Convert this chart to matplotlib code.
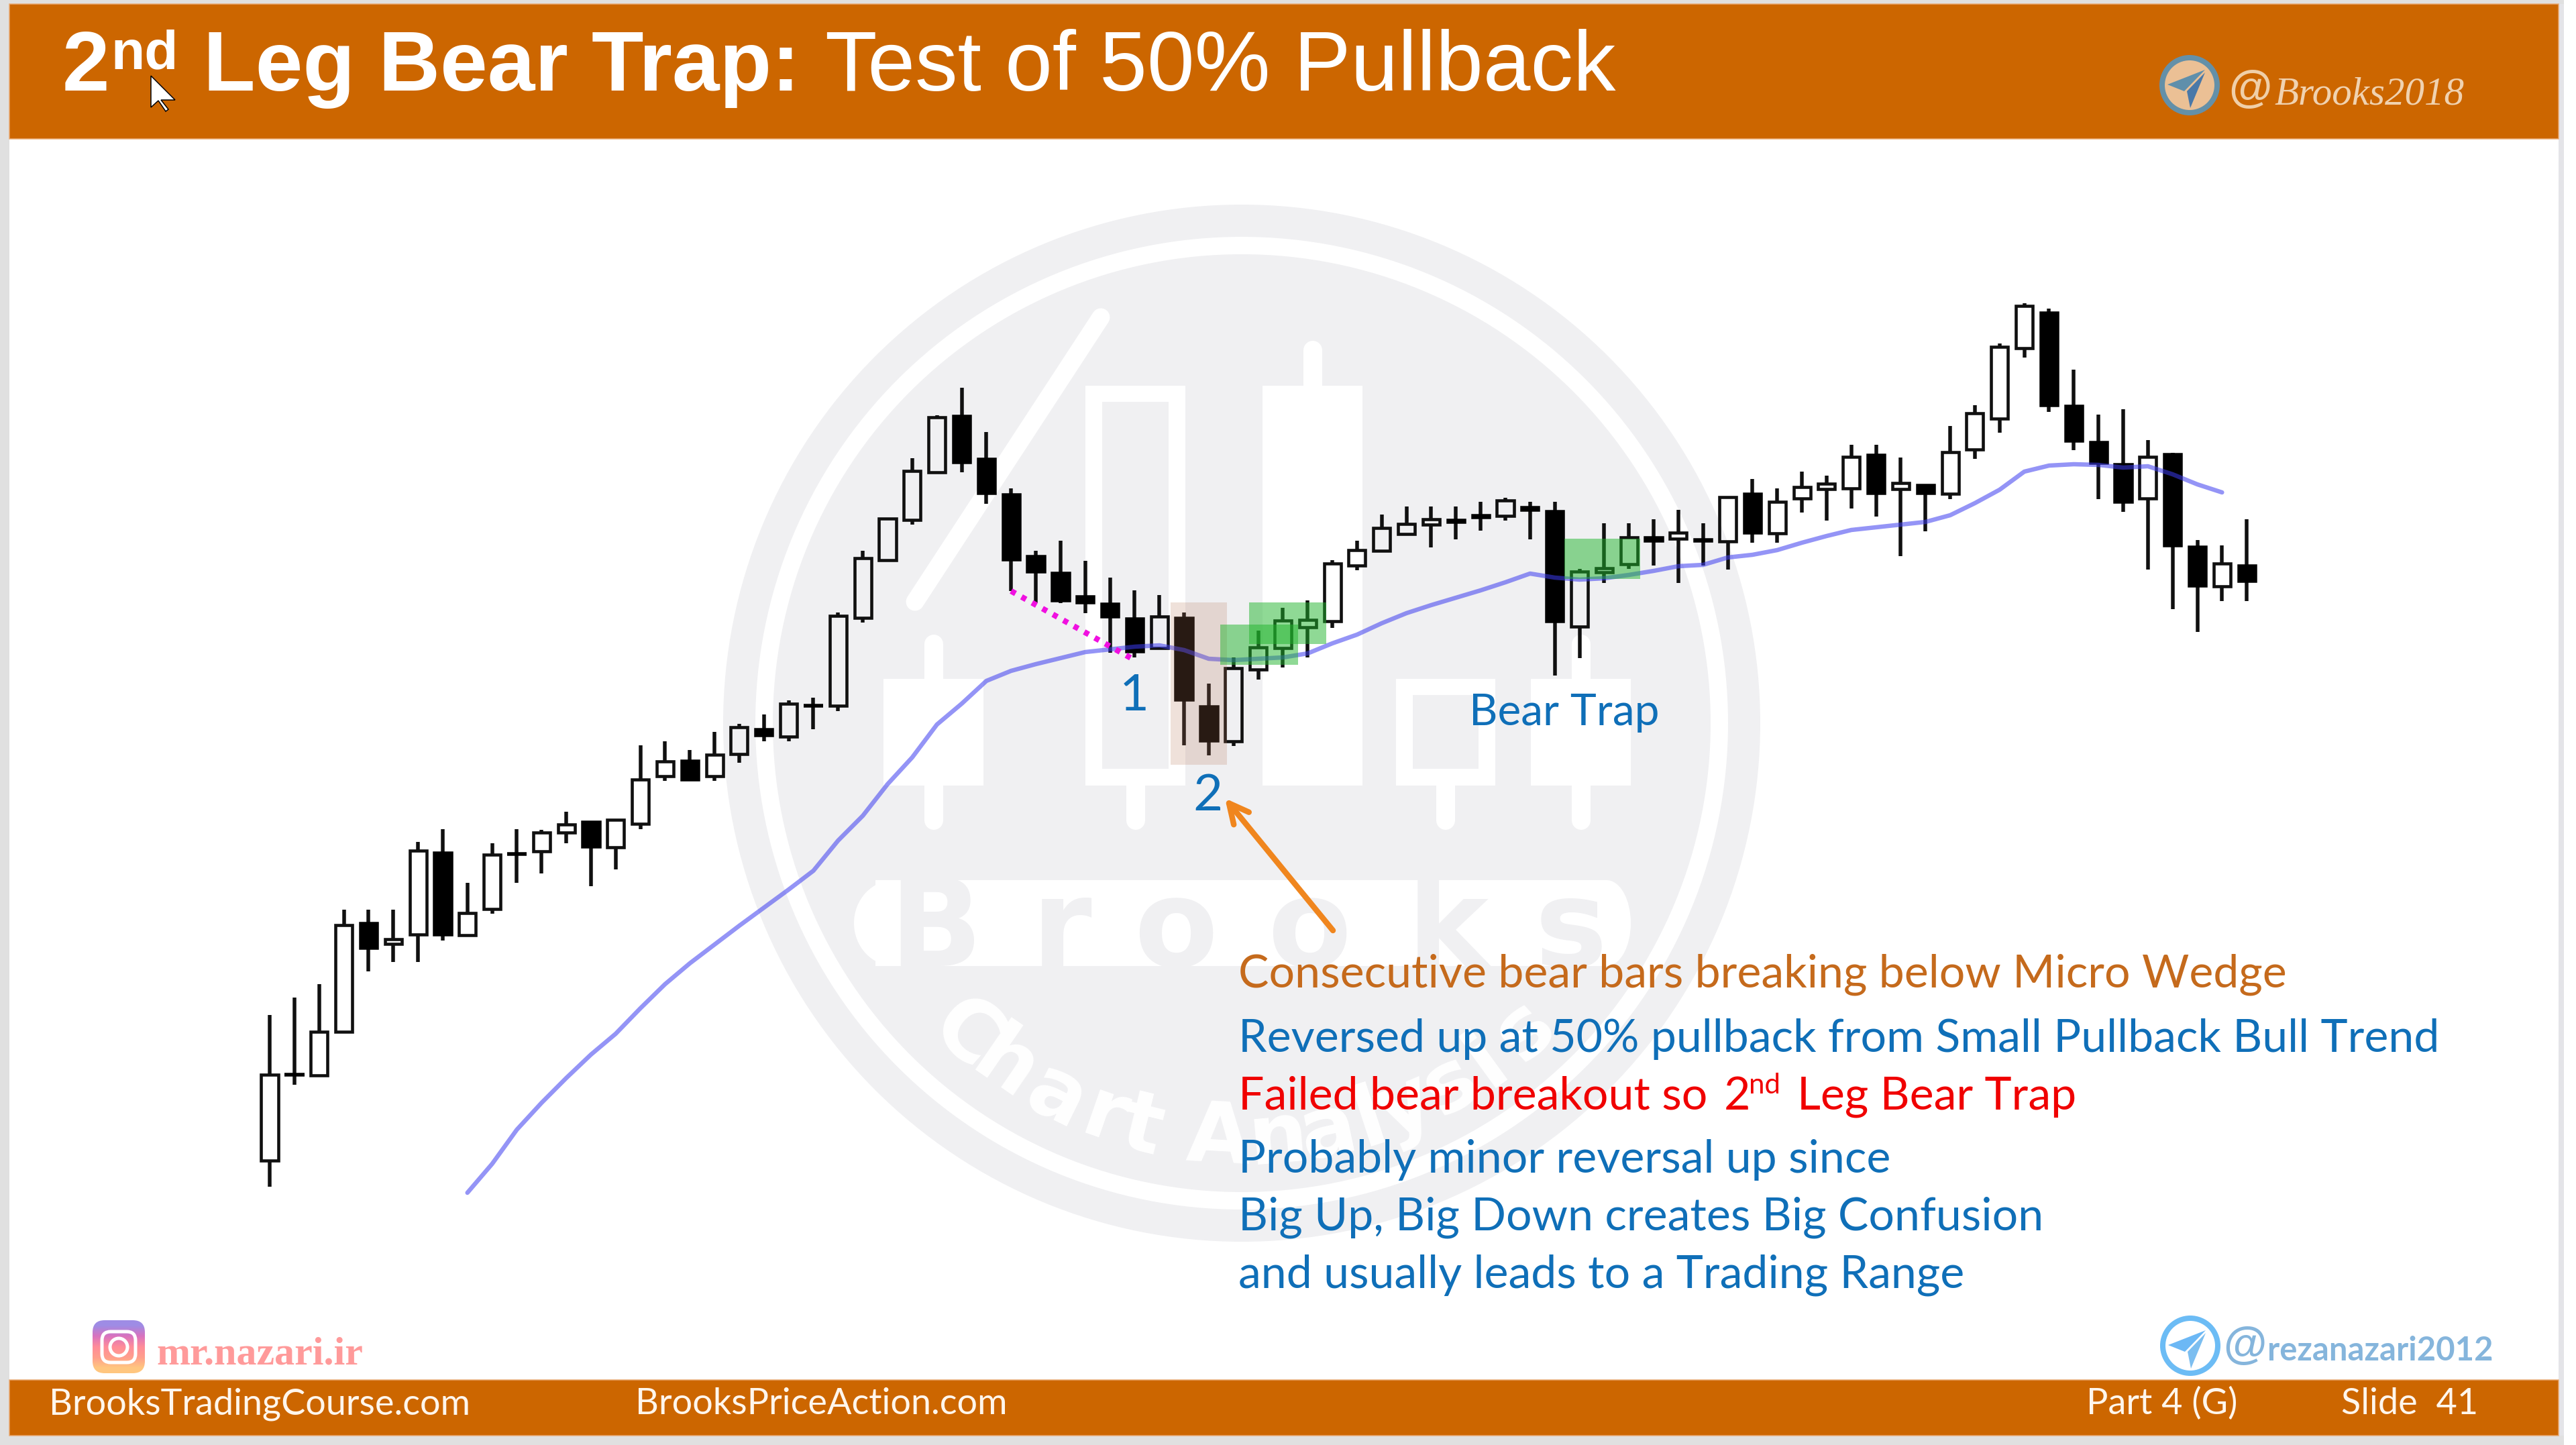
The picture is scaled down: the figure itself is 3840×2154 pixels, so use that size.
import matplotlib
matplotlib.use('Agg')
import matplotlib.pyplot as plt
import matplotlib.patches as patches
import numpy as np

# Bars, in picture rows (so the price axis runs top to bottom)
highs = [1513, 1487, 1467, 1356, 1356, 1356, 1255, 1236, 1316, 1257, 1236, 1237, 1210, 1224, 1222, 1111, 1105,
         1118, 1091, 1079, 1065, 1044, 1040, 913, 821, 773, 683, 619, 578, 644, 728, 821, 806, 836, 861, 880, 887,
         913, 1019, 980, 940, 906, 895, 835, 806, 767, 755, 755, 755, 748, 742, 748, 748, 848, 780, 780, 774, 760,
         780, 740, 714, 728, 703, 709, 663, 663, 682, 722, 635, 604, 512, 452, 460, 551, 618, 610, 656, 675, 805,
         813, 774]
lows = [1769, 1617, 1603, 1538, 1448, 1434, 1434, 1402, 1394, 1362, 1316, 1302, 1257, 1321, 1296, 1236, 1164,
        1163, 1164, 1137, 1105, 1105, 1087, 1060, 928, 835, 782, 704, 704, 751, 881, 899, 899, 914, 973, 980, 966,
        1111, 1126, 1112, 1013, 995, 980, 936, 850, 821, 796, 816, 804, 791, 776, 804, 1007, 981, 869, 848, 843,
        869, 843, 849, 809, 809, 764, 776, 758, 770, 829, 792, 744, 684, 645, 533, 614, 671, 744, 763, 849, 908,
        942, 896, 896]
opens = [1730, 1602, 1603, 1538, 1375, 1407, 1393, 1270, 1394, 1355, 1273, 1269, 1241, 1224, 1263, 1228, 1157,
         1133, 1157, 1124, 1086, 1098, 1052, 1052, 921, 835, 775, 704, 619, 683, 736, 828, 853, 888, 899, 921, 966,
         920, 1052, 1105, 998, 966, 935, 926, 843, 821, 796, 782, 774, 767, 769, 755, 761, 934, 853, 841, 800, 803,
         803, 807, 735, 795, 743, 729, 728, 677, 729, 722, 736, 670, 624, 519, 465, 604, 658, 691, 743, 676, 814,
         874, 842]
closes = [1602, 1602, 1538, 1379, 1414, 1400, 1268, 1394, 1361, 1274, 1273, 1241, 1229, 1263, 1222, 1162, 1135,
          1163, 1125, 1084, 1097, 1049, 1052, 918, 832, 773, 702, 622, 690, 736, 835, 853, 896, 899, 920, 972, 919,
          1044, 1105, 996, 965, 925, 924, 840, 820, 787, 781, 774, 779, 772, 746, 761, 927, 852, 847, 801, 807, 794,
          807, 741, 795, 748, 726, 721, 681, 736, 720, 736, 674, 616, 517, 456, 605, 658, 691, 749, 681, 814, 874,
          840, 867]

# Moving average, starts at bar 8 and stops one bar short of the end
ema_start = 8
ema = [1778, 1735, 1684, 1644, 1607, 1572, 1541, 1503, 1467, 1436, 1408, 1380, 1353, 1326, 1298, 1253, 1216, 1169,
       1129, 1080, 1049, 1015, 1000, 990, 981, 972, 968, 964, 962, 969, 982, 984, 982, 980, 974, 959, 946, 929, 914,
       902, 891, 880, 868, 855, 861, 864, 862, 857, 851, 844, 842, 831, 827, 820, 809, 799, 790, 786, 782, 778, 768,
       750, 730, 703, 694, 692, 693, 697, 695, 707, 722, 734]

# Micro wedge line, bar numbers and levels
wedge_x = [30, 35]
wedge_y = [881, 984]

# Text
footer_left = 'BrooksTradingCourse.com'
footer_mid = 'BrooksPriceAction.com'
footer_part = 'Part 4 (G)'
footer_slide = 'Slide  41'
line_orange = 'Consecutive bear bars breaking below Micro Wedge'
line_reversed = 'Reversed up at 50% pullback from Small Pullback Bull Trend'
lines_blue = ['Probably minor reversal up since', 'Big Up, Big Down creates Big Confusion',
              'and usually leads to a Trading Range']

ORANGE = '#CC6600'
BLUE = '#0F6FB8'
WM = '#F0F0F2'
SANS = 'Lato'


def pt(px):
    # font and line sizes are worked out in pixels of the 3840 wide picture
    return px * 72 / 100


fig = plt.figure(figsize=(38.4, 21.54), dpi=100, facecolor='white')


def layer(z):
    a = fig.add_axes([0, 0, 1, 1], zorder=z)
    a.set_xlim(0, 3840)
    a.set_ylim(2154, 0)
    a.axis('off')
    return a


bg = layer(0)
top = layer(2)

# Chart axes lined up so bar i falls on x = 402 + 36.84 * i
ax = fig.add_axes([0, 0, 1, 1], zorder=1)
ax.set_xlim(-402 / 36.84, (3840 - 402) / 36.84)
ax.set_ylim(2154, 0)
ax.axis('off')

# Watermark
bg.add_patch(patches.Circle((1851, 1078), 773, fc=WM, ec='none'))
bg.add_patch(patches.Circle((1851, 1078), 725, fc='white', ec='none'))
bg.add_patch(patches.Circle((1851, 1078), 699, fc=WM, ec='none'))


def wm_candle(x0, x1, y0, y1, wick_top, wick_bot, hollow=False):
    xm = (x0 + x1) / 2
    bg.plot([xm, xm], [wick_top, wick_bot], color='white', lw=pt(28), solid_capstyle='round')
    bg.add_patch(patches.Rectangle((x0, y0), x1 - x0, y1 - y0, fc='white', ec='none', zorder=3))
    if hollow:
        bg.add_patch(patches.Rectangle((x0 + 25, y0 + 24), x1 - x0 - 50, y1 - y0 - 49, fc=WM, ec='none', zorder=3))


wm_candle(1317, 1466, 1012, 1171, 960, 1223)
wm_candle(1618, 1767, 575, 1171, 1000, 1223, hollow=True)
wm_candle(1882, 2031, 575, 1171, 522, 1000)
wm_candle(2081, 2229, 1012, 1171, 1100, 1223, hollow=True)
wm_candle(2282, 2431, 1012, 1171, 960, 1223)
bg.plot([1641, 1364], [473, 897], color='white', lw=pt(27), solid_capstyle='round')

bg.add_patch(patches.Rectangle((1305, 1312), 1090, 128, fc='white', ec='none'))
bg.add_patch(patches.Ellipse((1333, 1376), 120, 128, fc='white', ec='none'))
bg.add_patch(patches.Ellipse((2395, 1376), 72, 128, fc='white', ec='none'))
for letter, lx in zip('Brooks', [1325, 1538, 1690, 1889, 2098, 2288]):
    bg.text(lx, 1440, letter, color=WM, fontsize=pt(182), family='DejaVu Sans', weight='bold', ha='left',
            va='baseline', zorder=4)

curved = 'ChartAnalysis'
curved_deg = [41.5, 34.5, 26.3, 19.2, 13.8, 3.2, -5, -12, -18, -23, -30, -36, -42.7]
for letter, deg in zip(curved, curved_deg):
    t = np.radians(deg)
    bg.text(1851 - 622 * np.sin(t), 1078 + 622 * np.cos(t), letter, color='white', fontsize=pt(124),
            family='DejaVu Sans', weight='bold', rotation=-deg, rotation_mode='anchor', ha='center', va='center',
            zorder=4)

# Candles
x = np.arange(len(highs))
highs = np.array(highs)
lows = np.array(lows)
opens = np.array(opens)
closes = np.array(closes)
body_top = np.minimum(opens, closes)
body_bot = np.maximum(opens, closes)
bear = closes > opens
bull = closes < opens
cross = closes == opens

ax.vlines(x, highs, body_top, color='#101010', lw=pt(5.5), zorder=3)
ax.vlines(x, body_bot, lows, color='#101010', lw=pt(5.5), zorder=3)
ax.bar(x[bull], (body_bot - body_top)[bull], bottom=body_top[bull], width=0.68, facecolor='none', edgecolor='#101010',
       linewidth=pt(4.6), zorder=3)
ax.bar(x[bear], (body_bot - body_top)[bear], bottom=body_top[bear], width=0.74, facecolor='black', edgecolor='black',
       linewidth=pt(2.5), zorder=3)
ax.hlines(closes[cross], x[cross] - 0.4, x[cross] + 0.4, color='black', lw=pt(5.5), zorder=3)

ax.plot(np.arange(len(ema)) + ema_start, ema, color='#3C3CF0', alpha=0.55, lw=pt(6.5), zorder=4,
        solid_capstyle='round')
ax.plot(wedge_x, wedge_y, color='#F010E0', lw=pt(8.5), linestyle=(0, (0.9, 1.2)), zorder=5)

# Highlight boxes, in slide pixels
top.add_patch(patches.Rectangle((1745, 898), 84, 242, fc='#B9785A', alpha=0.22, ec='none'))
for bx, by, bw, bh in [(1819, 931, 116, 60), (1862, 898, 115, 62), (2332, 803, 113, 60)]:
    top.add_patch(patches.Rectangle((bx, by), bw, bh, fc='#21B52D', alpha=0.5, ec='none'))

top.annotate('', xy=(1826, 1190), xytext=(1987, 1387),
             arrowprops=dict(arrowstyle='->,head_length=2.1,head_width=1.05', color='#F0861E', lw=pt(8.5),
                             shrinkA=0, shrinkB=0))

top.text(1691, 1059, '1', color=BLUE, fontsize=pt(76), family=SANS, ha='center', va='baseline')
top.text(1800, 1208, '2', color=BLUE, fontsize=pt(76), family=SANS, ha='center', va='baseline')
top.text(2190, 1081, 'Bear Trap', color=BLUE, fontsize=pt(66), family=SANS, ha='left', va='baseline')

# Text block
top.text(1846, 1471, line_orange, color='#C56A1C', fontsize=pt(68), family=SANS, va='baseline')
top.text(1846, 1568, line_reversed, color=BLUE, fontsize=pt(68), family=SANS, va='baseline')
top.text(1846, 1654, 'Failed bear breakout so', color='#F00000', fontsize=pt(68), family=SANS, va='baseline')
top.text(2570, 1654, '2', color='#F00000', fontsize=pt(68), family=SANS, va='baseline')
top.text(2607, 1630, 'nd', color='#F00000', fontsize=pt(42), family=SANS, va='baseline')
top.text(2679, 1654, 'Leg Bear Trap', color='#F00000', fontsize=pt(68), family=SANS, va='baseline')
for line, base in zip(lines_blue, [1748, 1834, 1919]):
    top.text(1846, base, line, color=BLUE, fontsize=pt(68), family=SANS, va='baseline')

# Slide frame and banners
top.add_patch(patches.Rectangle((0, 0), 14, 2154, fc='#E0E0E0', ec='none'))
top.add_patch(patches.Rectangle((3814, 0), 8, 2154, fc='#E4E4E8', ec='none'))
top.add_patch(patches.Rectangle((0, 0), 3822, 6, fc='#E0E0E0', ec='none'))
top.add_patch(patches.Rectangle((0, 2140), 3822, 14, fc='#E0E0E0', ec='none'))
top.add_patch(patches.Rectangle((14, 6), 3800, 201, fc=ORANGE, ec='#E8A870', lw=pt(1.5)))
top.add_patch(patches.Rectangle((14, 2057), 3800, 83, fc=ORANGE, ec='#E8A870', lw=pt(1.5)))

# Title
top.text(93, 135, '2', color='white', fontsize=pt(127), family='Liberation Sans', weight='bold', va='baseline')
top.text(165, 102, 'nd', color='white', fontsize=pt(82), family='Liberation Sans', weight='bold', va='baseline')
top.text(303, 135, 'Leg Bear Trap:', color='white', fontsize=pt(127), family='Liberation Sans', weight='bold',
         va='baseline')
top.text(1230, 135, 'Test of 50% Pullback', color='white', fontsize=pt(127), family='Liberation Sans', va='baseline')

# Mouse pointer caught in the screenshot
top.add_patch(patches.Polygon([(225, 113), (225, 160), (236, 150), (247, 166), (251, 163), (240, 149), (261, 149)],
                              closed=True, fc='white', ec='black', lw=pt(1.5)))

# Footer
top.text(73, 2108, footer_left, color='#FFF6EC', fontsize=pt(54), family=SANS, va='baseline')
top.text(947, 2108, footer_mid, color='#FFF6EC', fontsize=pt(54), family=SANS, va='baseline')
top.text(3110, 2108, footer_part, color='#FFF6EC', fontsize=pt(54), family=SANS, va='baseline')
top.text(3490, 2108, footer_slide, color='#FFF6EC', fontsize=pt(54), family=SANS, va='baseline')


def telegram(cx, cy, ring, face, wing1, wing2):
    top.add_patch(patches.Circle((cx, cy), 41, fc=face, ec=ring, lw=pt(8)))
    tip = (cx + 23, cy - 23)
    left = (cx - 33, cy - 1)
    mid = (cx - 8, cy + 9)
    bottom = (cx + 1, cy + 34)
    top.add_patch(patches.Polygon([tip, left, mid], closed=True, fc=wing1, ec='none'))
    top.add_patch(patches.Polygon([(cx + 23, cy - 19), (cx - 4, cy + 9), bottom], closed=True, fc=wing2, ec='none'))


telegram(3264, 127, '#6490A8', '#EBC095', '#5F8FAB', '#4A78A8')
top.text(3322, 152, '@', color='#F0CFA8', fontsize=pt(66), family='Liberation Sans', weight='bold', va='baseline')
top.text(3390, 155, 'Brooks2018', color='#F0D2B0', fontsize=pt(59), family='Liberation Serif', style='italic',
         va='baseline')

telegram(3265, 2006, '#6CBCF5', 'white', '#6CB8F5', '#7CBEF0')
top.text(3314, 2025, '@', color='#85B5DC', fontsize=pt(66), family='Liberation Sans', weight='bold', va='baseline')
top.text(3380, 2028, 'rezanazari2012', color='#85B5DC', fontsize=pt(49), family=SANS, weight='bold', va='baseline')

# Instagram badge
grad = np.array([[[0.62, 0.55, 0.9]], [[0.85, 0.45, 0.75]], [[1.0, 0.55, 0.6]], [[1.0, 0.62, 0.55]],
                 [[1.0, 0.78, 0.5]]])
badge = patches.FancyBboxPatch((148, 1978), 58, 59, boxstyle='round,pad=10,rounding_size=18', fc='none', ec='none',
                               transform=top.transData)
top.add_patch(badge)
im = top.imshow(grad, extent=(138, 216, 2047, 1968), aspect='auto', interpolation='bilinear', zorder=2)
im.set_clip_path(badge)
top.set_xlim(0, 3840)
top.set_ylim(2154, 0)
top.add_patch(patches.FancyBboxPatch((152, 1985), 50, 46, boxstyle='round,pad=0,rounding_size=13', fc='none',
                                     ec='white', lw=pt(5), zorder=3))
top.add_patch(patches.Circle((177, 2008), 13, fc='none', ec='white', lw=pt(5), zorder=3))
top.text(233, 2033, 'mr.nazari.ir', color='#FF9A9A', fontsize=pt(60), family='Liberation Serif', weight='bold',
         va='baseline')

plt.savefig('out.png', dpi=100, facecolor='white')
